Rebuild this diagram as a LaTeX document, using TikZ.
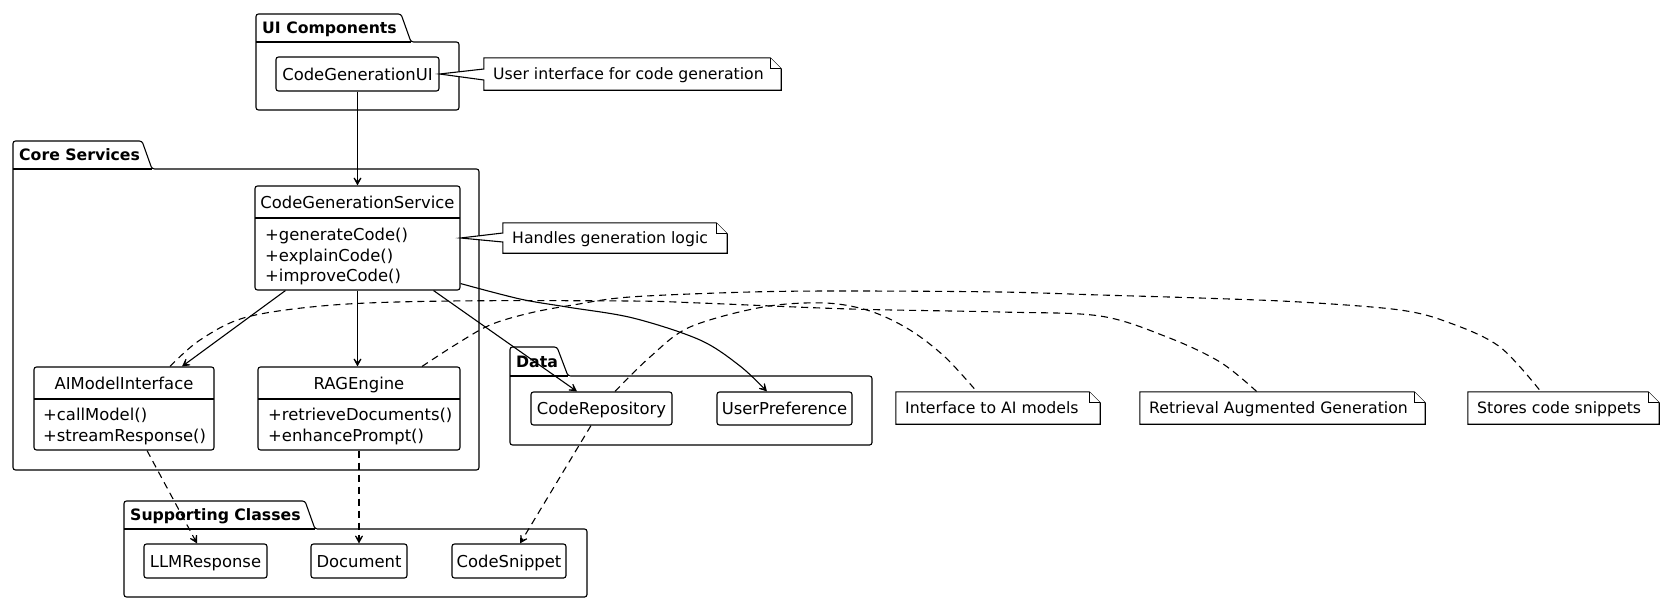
\documentclass[tikz,border=0pt]{standalone}
\usepackage{fontspec}
\setmainfont{DejaVu Sans}
\usetikzlibrary{arrows.meta,calc}
\newcommand{\clsf}{\fontsize{16.4}{20}\selectfont}
\newcommand{\notef}{\fontsize{15.7}{19}\selectfont}
\newcommand{\pkgf}{\fontsize{15.7}{19}\selectfont\bfseries}
\newcommand{\pkgdraw}[7]{%
  \draw[pline] (#4,#5) -- (#6,#5) -- (#6,#7) -- (#1,#7) -- (#1,#2) -- (#3,#2) -- cycle;
  \draw[line width=1.1pt] (#1,#5) -- (#4,#5);}
\newcommand{\notefr}[1]{%
  \draw[nline] (#1.north west) -- ([xshift=-11pt]#1.north east) -- ([yshift=-11pt]#1.north east) -- (#1.south east) -- (#1.south west) -- cycle;
  \draw[nline] ([xshift=-11pt]#1.north east) |- ([yshift=-11pt]#1.north east);}
\newcommand{\wedgenote}[4]{%
  \draw[nline] (#1.north west) -- ([xshift=-11pt]#1.north east) -- ([yshift=-11pt]#1.north east) -- (#1.south east) -- (#1.south west) -- ([yshift=#4]#1.west) -- (#2) -- ([yshift=#3]#1.west) -- cycle;
  \draw[nline] ([xshift=-11pt]#1.north east) |- ([yshift=-11pt]#1.north east);}
\begin{document}
\begin{tikzpicture}[x=1pt,y=-1pt,
  pline/.style={line width=1.1pt, rounded corners=2.5pt},
  cls/.style={draw, line width=1.1pt, rounded corners=2.5pt, fill=white, inner sep=0pt},
  ttl/.style={font=\clsf, inner sep=0pt, anchor=base},
  mem/.style={font=\clsf, inner sep=0pt, anchor=base west},
  ntx/.style={font=\notef, inner sep=0pt, anchor=base west},
  ptx/.style={font=\pkgf, inner sep=0pt, anchor=base west},
  nbox/.style={inner sep=0pt, draw=none},
  nline/.style={line width=1.1pt, fill=white, line join=miter},
  arr/.style={line width=1.1pt, -{Stealth[length=12pt,width=13pt,inset=8pt]}},
  dep/.style={arr, dash pattern=on 7pt off 5pt},
  nlink/.style={line width=1.1pt, dash pattern=on 7pt off 5pt}]
\useasboundingbox[fill=white] (0,0) rectangle (1666,605);

% packages
\pkgdraw{256}{14}{401}{411}{42}{459}{110}
\pkgdraw{13}{141}{142}{152}{169}{479}{470}
\pkgdraw{510}{347}{557}{568}{376}{872}{445}
\pkgdraw{124}{501}{305}{315}{529}{587}{597}
\node[ptx] (pui) at (262,33.7) {UI Components};
\node[ptx] (pcore) at (19,160.7) {Core Services};
\node[ptx] (pdata) at (516,367.7) {Data};
\node[ptx] (psupp) at (130,520.7) {Supporting Classes};

% classes
\node[cls, minimum width=163pt, minimum height=34pt] (ui) at (357.5,74) {};
\node[ttl] (uit) at (357.5,80) {CodeGenerationUI};

\node[cls, minimum width=205pt, minimum height=104pt] (cgs) at (357.5,238) {};
\draw[line width=1.1pt] (255,218) -- (460,218);
\node[ttl] (cgst) at (357.5,208) {CodeGenerationService};
\node[mem] (cgs1) at (265,240) {+generateCode()};
\node[mem] (cgs2) at (265,261) {+explainCode()};
\node[mem] (cgs3) at (265,281) {+improveCode()};

\node[cls, minimum width=180pt, minimum height=83pt] (aimi) at (124,408.5) {};
\draw[line width=1.1pt] (34,399) -- (214,399);
\node[ttl] (aimit) at (124,389) {AIModelInterface};
\node[mem] (aimi1) at (43,420) {+callModel()};
\node[mem] (aimi2) at (43,441) {+streamResponse()};

\node[cls, minimum width=202pt, minimum height=83pt] (rag) at (359,408.5) {};
\draw[line width=1.1pt] (258,399) -- (460,399);
\node[ttl] (ragt) at (359,389) {RAGEngine};
\node[mem] (rag1) at (268,420) {+retrieveDocuments()};
\node[mem] (rag2) at (268,441) {+enhancePrompt()};

\node[cls, minimum width=141pt, minimum height=33pt] (crepo) at (601.5,408.5) {};
\node[ttl] (crepot) at (601.5,414.5) {CodeRepository};
\node[cls, minimum width=135pt, minimum height=33pt] (upref) at (784.5,408.5) {};
\node[ttl] (upreft) at (784.5,414.5) {UserPreference};

\node[cls, minimum width=123pt, minimum height=34pt] (llm) at (205.5,561) {};
\node[ttl] (llmt) at (205.5,567) {LLMResponse};
\node[cls, minimum width=96pt, minimum height=34pt] (doc) at (359,561) {};
\node[ttl] (doct) at (359,567) {Document};
\node[cls, minimum width=114pt, minimum height=34pt] (snip) at (509,561) {};
\node[ttl] (snipt) at (509,567) {CodeSnippet};

% notes
\node[nbox, minimum width=297pt, minimum height=32pt] (nui) at (632.5,74) {};
\wedgenote{nui}{ui.east}{5pt}{-6pt}
\node[ntx] (nuit) at (493,79.7) {User interface for code generation};

\node[nbox, minimum width=224pt, minimum height=30pt] (nh) at (615,238) {};
\wedgenote{nh}{cgs.east}{5pt}{-4pt}
\node[ntx] (nht) at (512,243.7) {Handles generation logic};

\node[nbox, minimum width=204pt, minimum height=32pt] (nia) at (998,408) {};
\notefr{nia}
\node[ntx] (niat) at (905,413.7) {Interface to AI models};

\node[nbox, minimum width=285pt, minimum height=32pt] (nrag) at (1282.5,408) {};
\notefr{nrag}
\node[ntx] (nragt) at (1149,413.7) {Retrieval Augmented Generation};

\node[nbox, minimum width=191pt, minimum height=32pt] (nst) at (1563.5,408) {};
\notefr{nst}
\node[ntx] (nstt) at (1477,413.7) {Stores code snippets};

% note links (dashed)
\draw[nlink] plot[smooth, tension=0.55] coordinates {([xshift=46pt]aimi.north) (200,340) (247,317) (333,305) (450,301) (630,301) (700,303) (850,309) (1000,312) (1100,316) (1167,337) (1220,362) ([xshift=-25.5pt]nrag.north)};
\draw[nlink] plot[smooth, tension=0.55] coordinates {([xshift=63pt]rag.north) (455,345) (490,325) (530,313) (573,305) (630,297) (750,292) (850,291) (1000,292) (1100,295) (1200,298) (1300,302) (1400,310) (1450,323) (1500,347) ([xshift=-22.5pt]nst.north)};
\draw[nlink] plot[smooth, tension=0.55] coordinates {([xshift=13.5pt]crepo.north) (650,357) (690,327) (763,307) (825,303) (870,311) (910,330) (945,357) ([xshift=-21pt]nia.north)};

% associations
\draw[arr] (ui.south) -- (cgs.north);
\draw[arr] ([xshift=31pt]cgs.south west) -- ([xshift=58pt]aimi.north);
\draw[arr] (cgs.south) -- (cgs.south |- rag.north);
\draw[arr] ([xshift=-27pt]cgs.south east) -- ([xshift=-24.5pt]crepo.north);
\draw[arr] plot[smooth, tension=0.55] coordinates {([yshift=7pt]cgs.south east) (520,299) (567,307) (633,318) (700,340) (740,366) ([xshift=-17.5pt]upref.north)};

% dependencies
\draw[dep] ([xshift=23pt]aimi.south) -- ([xshift=-8.5pt]llm.north);
\draw[dep] (rag.south) -- (doc.north);
\draw[dep] ([xshift=-10.5pt]crepo.south) -- ([xshift=11pt]snip.north);
\end{tikzpicture}
\end{document}
